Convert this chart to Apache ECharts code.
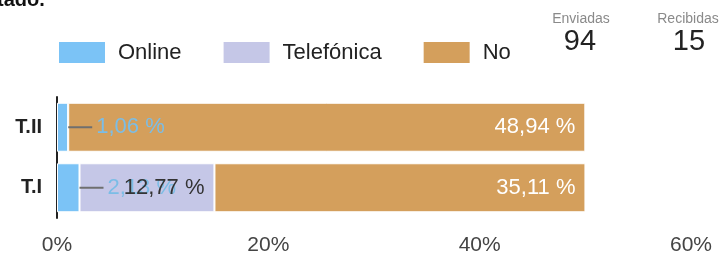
<!DOCTYPE html>
<html><head><meta charset="utf-8">
<script src="https://cdn.jsdelivr.net/npm/echarts@6/dist/echarts.min.js"></script>
<style>html,body{margin:0;padding:0;background:#fff}#c{width:722px;height:253px}</style>
</head><body><div id="c"></div>
<script>
var categories = ['T.I', 'T.II'];
var onlineValues = [2.13, 1.06];
var telefonicaValues = [12.77, 0];
var noValues = [35.11, 48.94];
var seriesNames = ['Online', 'Telefónica', 'No'];
var xTicks = [0, 20, 40, 60];
var enviadas = 94;
var recibidas = 15;

var FONT = '"Liberation Sans", Arial, sans-serif';
function fmt(v) { return v.toFixed(2).replace('.', ',') + ' %'; }

var chart = echarts.init(document.getElementById('c'), null, {renderer: 'canvas'});
chart.setOption({
  animation: false,
  textStyle: {fontFamily: FONT},
  legend: {
    left: 57, top: 40, padding: 0, itemWidth: 48, itemHeight: 23, itemGap: 40, icon: 'rect',
    textStyle: {fontFamily: FONT, fontSize: 22, color: '#222', padding: [0, 0, 0, 7]},
    data: seriesNames
  },
  graphic: [
    {type: 'text', left: -3, top: -10, style: {text: 'tado.', font: 'bold 20px ' + FONT, fill: '#111'}},
    {type: 'text', x: 581, y: 19, style: {text: 'Enviadas', font: '14px ' + FONT, fill: '#8a8a8a', align: 'center', verticalAlign: 'middle'}},
    {type: 'text', x: 580, y: 42, style: {text: String(enviadas), font: '29px ' + FONT, fill: '#222', align: 'center', verticalAlign: 'middle'}},
    {type: 'text', x: 688, y: 19, style: {text: 'Recibidas', font: '14px ' + FONT, fill: '#8a8a8a', align: 'center', verticalAlign: 'middle'}},
    {type: 'text', x: 689, y: 42, style: {text: String(recibidas), font: '29px ' + FONT, fill: '#222', align: 'center', verticalAlign: 'middle'}}
  ],
  grid: {left: 57, right: 31, top: 97, bottom: 35, containLabel: false, outerBoundsMode: 'none'},
  xAxis: {
    type: 'value', min: xTicks[0], max: xTicks[xTicks.length - 1], interval: 20,
    axisLine: {show: false}, axisTick: {show: false}, splitLine: {show: false},
    axisLabel: {formatter: '{value}%', fontSize: 21, color: '#444', margin: 17, fontFamily: FONT}
  },
  yAxis: {
    type: 'category', data: categories,
    axisLine: {show: true, lineStyle: {color: '#222', width: 2}},
    axisTick: {show: false},
    axisLabel: {fontSize: 20, fontWeight: 'bold', color: '#222', margin: 15, fontFamily: FONT}
  },
  series: [
    {
      name: seriesNames[0], type: 'bar', stack: 'a', barWidth: 49, data: onlineValues,
      itemStyle: {color: '#7bc3f6', borderColor: '#fff', borderWidth: 1},
      label: {show: true, position: 'right', distance: 0, fontFamily: FONT,
        formatter: function (p) { return '{ln|}{t|' + fmt(p.value) + '}'; },
        rich: {
          ln: {width: 24, height: 2, backgroundColor: '#6f6f6f', verticalAlign: 'middle'},
          t: {fontSize: 22, color: '#7bbde6', padding: [0, 0, 0, 4], fontFamily: FONT, verticalAlign: 'middle'}
        }}
    },
    {
      name: seriesNames[1], type: 'bar', stack: 'a', barWidth: 49, data: telefonicaValues,
      itemStyle: {color: '#c5c7e7', borderColor: '#fff', borderWidth: 1},
      label: {show: true, position: 'insideRight', distance: 10, fontSize: 22, color: '#333', fontFamily: FONT,
        formatter: function (p) { return p.value > 0 ? fmt(p.value) : ''; }}
    },
    {
      name: seriesNames[2], type: 'bar', stack: 'a', barWidth: 49, data: noValues,
      itemStyle: {color: '#d49f5c', borderColor: '#fff', borderWidth: 1},
      label: {show: true, position: 'insideRight', distance: 10, fontSize: 22, color: '#fff', fontFamily: FONT,
        formatter: function (p) { return fmt(p.value); }}
    }
  ]
});
</script></body></html>
